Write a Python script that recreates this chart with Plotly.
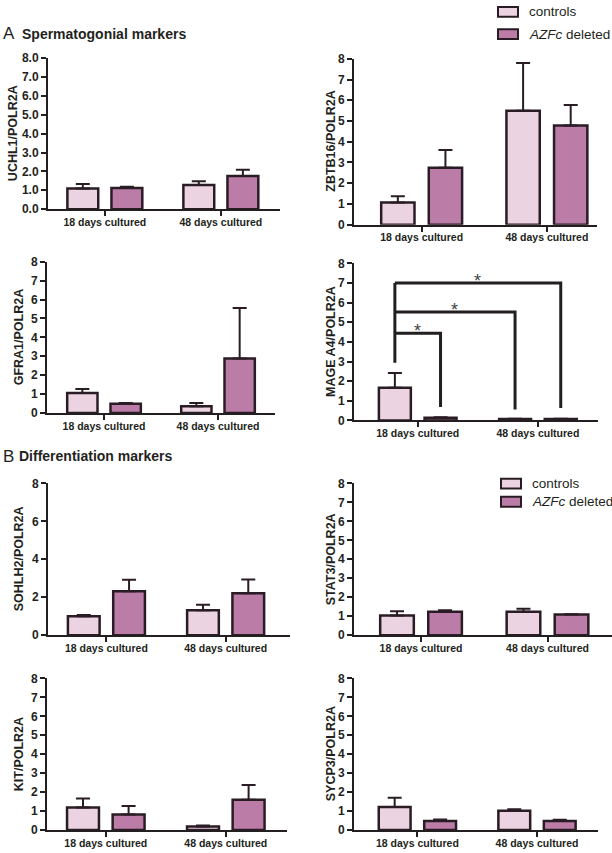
import plotly.graph_objects as go

W, H = 612, 853

# ---------------- data ----------------
categories = ["18 days cultured", "48 days cultured"]
series_names = ["controls", "AZFc deleted"]

uchl1_ctrl = [1.09, 1.28]
uchl1_ctrl_err = [0.24, 0.20]
uchl1_azfc = [1.12, 1.76]
uchl1_azfc_err = [0.07, 0.33]

zbtb16_ctrl = [1.07, 5.50]
zbtb16_ctrl_err = [0.30, 2.30]
zbtb16_azfc = [2.75, 4.79]
zbtb16_azfc_err = [0.85, 0.98]

gfra1_ctrl = [1.06, 0.35]
gfra1_ctrl_err = [0.21, 0.17]
gfra1_azfc = [0.49, 2.88]
gfra1_azfc_err = [0.04, 2.67]

magea4_ctrl = [1.67, 0.07]
magea4_ctrl_err = [0.75, 0.02]
magea4_azfc = [0.13, 0.07]
magea4_azfc_err = [0.03, 0.02]

sohlh2_ctrl = [1.00, 1.31]
sohlh2_ctrl_err = [0.07, 0.30]
sohlh2_azfc = [2.31, 2.21]
sohlh2_azfc_err = [0.61, 0.73]

stat3_ctrl = [1.04, 1.23]
stat3_ctrl_err = [0.22, 0.17]
stat3_azfc = [1.24, 1.09]
stat3_azfc_err = [0.07, 0.02]

kit_ctrl = [1.19, 0.18]
kit_ctrl_err = [0.47, 0.05]
kit_azfc = [0.82, 1.59]
kit_azfc_err = [0.44, 0.78]

sycp3_ctrl = [1.21, 1.02]
sycp3_ctrl_err = [0.49, 0.07]
sycp3_azfc = [0.48, 0.47]
sycp3_azfc_err = [0.07, 0.07]

# significance brackets on MAGE A4 (y levels of bracket tops, and drop ends)
sig_top = [7.0, 5.53, 4.44]
sig_drop = [0.63, 0.55, 0.68]
sig_left_bottom = 2.94

# ---------------- styles / layout ----------------
C_CTRL = "#ebd3e2"
C_AZFC = "#bb7ca7"
C_EDGE = "#2a1c24"
C_TXT = "#231f20"
FONT = "Liberation Sans, Arial, sans-serif"

panels = [
    dict(t="UCHL1/POLR2A", c=uchl1_ctrl, ce=uchl1_ctrl_err, a=uchl1_azfc, ae=uchl1_azfc_err,
         xd=(48, 280), yd=(52, 205.5), xr=(-0.49, 1.51), dt=1, fmt=".1f", tx=12.5),
    dict(t="ZBTB16/POLR2A", c=zbtb16_ctrl, ce=zbtb16_ctrl_err, a=zbtb16_azfc, ae=zbtb16_azfc_err,
         xd=(354, 597), yd=(52.7, 221.3), xr=(-0.54, 1.40), dt=1, fmt="d", tx=331),
    dict(t="GFRA1/POLR2A", c=gfra1_ctrl, ce=gfra1_ctrl_err, a=gfra1_azfc, ae=gfra1_azfc_err,
         xd=(47, 275), yd=(259, 412.7), xr=(-0.50, 1.50), dt=1, fmt="d", tx=19),
    dict(t="MAGE A4/POLR2A", c=magea4_ctrl, ce=magea4_ctrl_err, a=magea4_azfc, ae=magea4_azfc_err,
         xd=(354, 598), yd=(260.7, 420.3), xr=(-0.53, 1.50), dt=1, fmt="d", tx=331),
    dict(t="SOHLH2/POLR2A", c=sohlh2_ctrl, ce=sohlh2_ctrl_err, a=sohlh2_azfc, ae=sohlh2_azfc_err,
         xd=(48, 290), yd=(484.3, 638.7), xr=(-0.49, 1.54), dt=2, fmt="d", tx=19),
    dict(t="STAT3/POLR2A", c=stat3_ctrl, ce=stat3_ctrl_err, a=stat3_azfc, ae=stat3_azfc_err,
         xd=(354, 612), yd=(484.3, 638.7), xr=(-0.53, 1.51), dt=1, fmt="d", tx=331),
    dict(t="KIT/POLR2A", c=kit_ctrl, ce=kit_ctrl_err, a=kit_azfc, ae=kit_azfc_err,
         xd=(47, 287), yd=(682.7, 836.7), xr=(-0.49, 1.51), dt=1, fmt="d", tx=19),
    dict(t="SYCP3/POLR2A", c=sycp3_ctrl, ce=sycp3_ctrl_err, a=sycp3_azfc, ae=sycp3_azfc_err,
         xd=(354, 598), yd=(682.7, 836.7), xr=(-0.53, 1.51), dt=1, fmt="d", tx=331),
]

BARGAP = 0.24
OFF = (1 - BARGAP) / 4  # centre offset of each bar within its group

fig = go.Figure()
layout = dict(
    width=W, height=H, margin=dict(l=0, r=0, t=0, b=0),
    paper_bgcolor="white", plot_bgcolor="white",
    barmode="group", bargap=BARGAP, bargroupgap=0.30,
    showlegend=False, font=dict(family=FONT, color=C_TXT),
)
annotations = []
shapes = []

xpos = list(range(len(categories)))

for i, p in enumerate(panels):
    n = i + 1
    xa = "x" if n == 1 else f"x{n}"
    ya = "y" if n == 1 else f"y{n}"
    for name, vals, errs, col in ((series_names[0], p["c"], p["ce"], C_CTRL),
                                  (series_names[1], p["a"], p["ae"], C_AZFC)):
        fig.add_trace(go.Bar(
            x=xpos, y=vals, name=name, xaxis=xa, yaxis=ya,
            marker=dict(color=col, line=dict(color=C_EDGE, width=2.5)),
            error_y=dict(type="data", array=errs, arrayminus=[0] * len(errs),
                         symmetric=False, color=C_EDGE, thickness=2, width=7),
            offsetgroup=name, showlegend=False,
        ))
    x0, x1 = p["xd"]
    yt, yb = p["yd"]
    layout[f"xaxis{n if n > 1 else ''}"] = dict(
        domain=[x0 / W, x1 / W], anchor=ya, range=list(p["xr"]),
        tickvals=xpos, ticktext=categories, ticks="outside", ticklen=5, tickwidth=2,
        tickcolor=C_TXT, showline=True, linecolor=C_TXT, linewidth=2,
        showgrid=False, zeroline=False, fixedrange=True, ticklabelstandoff=-3,
        tickfont=dict(family=FONT, size=10.5, color=C_TXT, weight="bold"),
    )
    layout[f"yaxis{n if n > 1 else ''}"] = dict(
        domain=[1 - yb / H, 1 - yt / H], anchor=xa, range=[0, 8],
        tick0=0, dtick=p["dt"], tickformat=p["fmt"], ticks="outside", ticklen=5, tickwidth=2,
        tickcolor=C_TXT, showline=True, linecolor=C_TXT, linewidth=2,
        showgrid=False, zeroline=False, fixedrange=True,
        tickfont=dict(family=FONT, size=12, color=C_TXT, weight="bold"),
    )
    annotations.append(dict(
        text=f"<b>{p['t']}</b>", xref="paper", yref="paper",
        x=p["tx"] / W, y=1 - (yt + yb) / 2 / H, xanchor="center", yanchor="middle",
        textangle=-90, showarrow=False, font=dict(family=FONT, size=12.5, color=C_TXT),
    ))

# significance brackets on MAGE A4 panel (axis 4)
left_x = 0 - OFF
right_xs = [1 + OFF, 1 - OFF, 0 + OFF]
fig.add_trace(go.Scatter(x=[left_x, left_x], y=[sig_left_bottom, sig_top[0]], mode="lines",
                         xaxis="x4", yaxis="y4", line=dict(color=C_TXT, width=3),
                         showlegend=False, hoverinfo="skip"))
for top, drop, rx in zip(sig_top, sig_drop, right_xs):
    fig.add_trace(go.Scatter(x=[left_x, rx, rx], y=[top, top, drop], mode="lines",
                             xaxis="x4", yaxis="y4", line=dict(color=C_TXT, width=3),
                             showlegend=False, hoverinfo="skip"))
    annotations.append(dict(text="*", xref="x4", yref="y4", x=(left_x + rx) / 2, y=top,
                            yanchor="middle", xanchor="center", yshift=2, showarrow=False,
                            font=dict(family=FONT, size=18, color="#444444")))

# panel headings
for letter, label, ycen, lx in (("A", "Spermatogonial markers", 27, 20), ("B", "Differentiation markers", 457, 17)):
    annotations.append(dict(text=letter, xref="paper", yref="paper", x=1 / W, y=1 - ycen / H,
                            xanchor="left", yanchor="middle", showarrow=False,
                            font=dict(family=FONT, size=17, color=C_TXT)))
    annotations.append(dict(text=f"<b>{label}</b>", xref="paper", yref="paper", x=lx / W, y=1 - ycen / H,
                            xanchor="left", yanchor="middle", showarrow=False,
                            font=dict(family=FONT, size=14, color=C_TXT)))

# legends (drawn as boxes + text)
for bx, ys, tx in ((498, (5, 27.5), 527), (501, (484.5, 503), 530)):
    for nm, yc, col in zip(series_names, ys, (C_CTRL, C_AZFC)):
        shapes.append(dict(type="rect", xref="paper", yref="paper",
                           x0=bx / W, x1=(bx + 20) / W, y0=1 - (yc - 5) / H, y1=1 - (yc + 5) / H,
                           fillcolor=col, line=dict(color=C_EDGE, width=2)))
        txt = nm if nm == "controls" else "<i>AZFc</i> deleted"
        annotations.append(dict(text=txt, xref="paper", yref="paper", x=tx / W, y=1 - yc / H,
                                xanchor="left", yanchor="middle", showarrow=False,
                                font=dict(family=FONT, size=13.5, color=C_TXT)))

layout["annotations"] = annotations
layout["shapes"] = shapes
fig.update_layout(**layout)
fig.write_html("out.html", config={"displayModeBar": False},
               post_script="document.body.style.margin='0';document.body.style.overflow='hidden';")
